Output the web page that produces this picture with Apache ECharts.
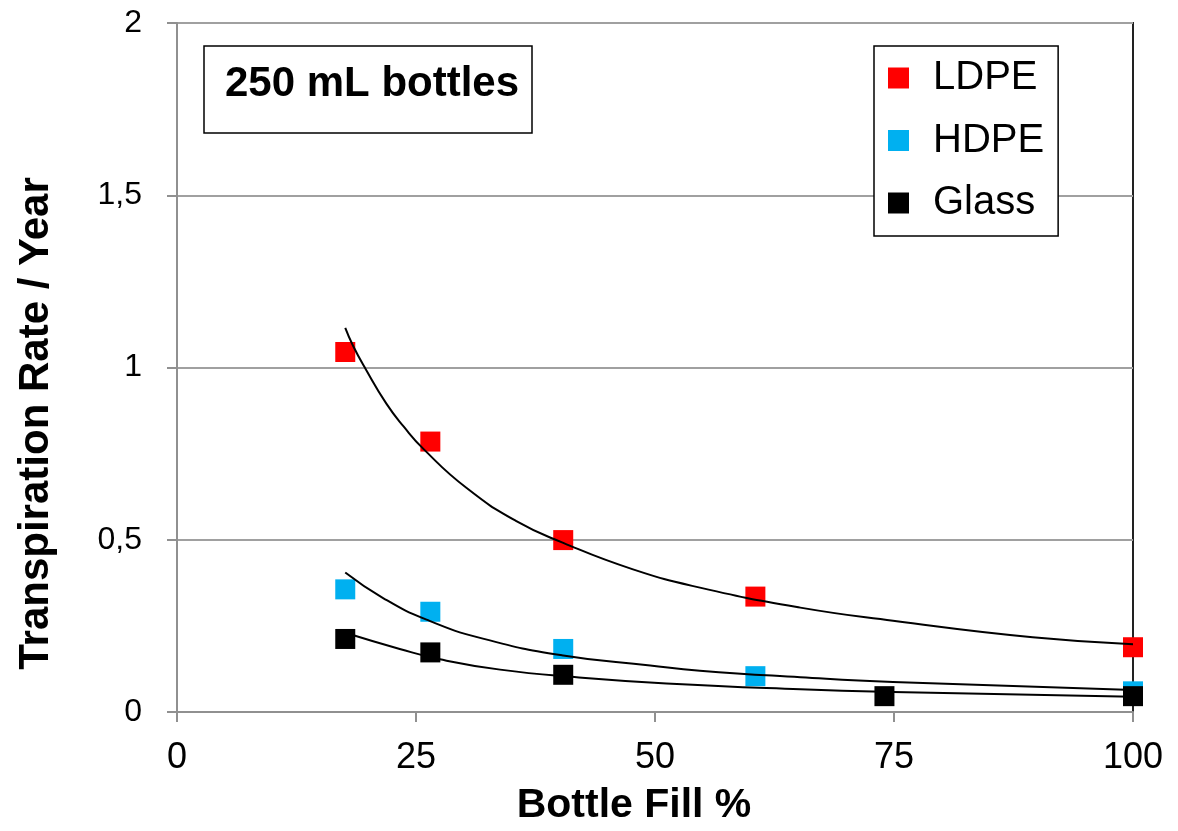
<!DOCTYPE html>
<html>
<head>
<meta charset="utf-8">
<script src="https://cdn.jsdelivr.net/npm/echarts@6/dist/echarts.min.js"></script>
<style>
html,body{margin:0;padding:0;background:#fff;}
#chart{width:1178px;height:831px;}
</style>
</head>
<body>
<div id="chart"></div>
<script>
// ---- Data ----
var seriesNames = ['LDPE', 'HDPE', 'Glass'];
var ldpe  = [[17.6, 1.045], [26.5, 0.785], [40.4, 0.499], [60.5, 0.335], [100, 0.188]];
var hdpe  = [[17.6, 0.356], [26.5, 0.291], [40.4, 0.183], [60.5, 0.104], [100, 0.060]];
var glass = [[17.6, 0.212], [26.5, 0.173], [40.4, 0.108], [74.0, 0.046], [100, 0.046]];

// trend curves, sampled along the drawn curves
var ldpeTrend  = [[17.6, 1.115], [18.4, 1.064], [19.7, 0.997], [21.9, 0.895], [23.7, 0.829], [25.8, 0.763], [30.3, 0.650], [35.5, 0.554], [40.4, 0.491], [47.7, 0.414], [54.7, 0.361], [65.2, 0.303], [74.9, 0.265], [89.5, 0.217], [100, 0.197]];
var hdpeTrend  = [[17.6, 0.405], [21.6, 0.330], [26.1, 0.268], [32.0, 0.213], [40.4, 0.164], [49.5, 0.135], [54.7, 0.120], [65.2, 0.101], [74.9, 0.087], [100, 0.064]];
var glassTrend = [[17.6, 0.230], [23.3, 0.183], [27.5, 0.153], [33.8, 0.123], [41.8, 0.101], [51.2, 0.083], [65.2, 0.066], [74.9, 0.058], [100, 0.044]];

var xTicks = {min: 0, max: 100, interval: 25};
var yTicks = {min: 0, max: 2, interval: 0.5};
var annotation = '250 mL bottles';
var xTitle = 'Bottle Fill %';
var yTitle = 'Transpiration Rate / Year';

var colors = {LDPE: '#FF0000', HDPE: '#00B0F0', Glass: '#000000'};
var FONT = "'Liberation Sans', Arial, sans-serif";

var chart = echarts.init(document.getElementById('chart'), null, {renderer: 'canvas'});

function scatter(name, data) {
  return {
    name: name, type: 'scatter', data: data,
    symbol: 'rect', symbolSize: 20,
    itemStyle: {color: colors[name], opacity: 1},
    z: 2
  };
}
function trend(data) {
  return {
    type: 'line', data: data, showSymbol: false, symbol: 'none',
    smooth: 0.5,
    lineStyle: {color: '#000', width: 2},
    silent: true, z: 5
  };
}

chart.setOption({
  animation: false,
  backgroundColor: '#fff',
  textStyle: {fontFamily: FONT},
  grid: {left: 177, right: 45, top: 23, bottom: 116, show: true, borderColor: '#222', borderWidth: 2, backgroundColor: 'transparent'},
  title: {
    text: annotation,
    left: 204, top: 46,
    padding: [17, 13, 28, 21],
    borderColor: '#000', borderWidth: 1.5, backgroundColor: '#fff',
    textStyle: {fontFamily: FONT, fontWeight: 'bold', fontSize: 42, color: '#000', lineHeight: 42}
  },
  legend: {
    data: seriesNames,
    orient: 'vertical',
    left: 874, top: 46,
    padding: [12, 14, 13, 14],
    itemGap: 22.5,
    itemWidth: 21, itemHeight: 21,
    icon: 'rect',
    borderColor: '#000', borderWidth: 1.5, backgroundColor: '#fff',
    textStyle: {fontFamily: FONT, fontSize: 40, color: '#000', padding: [0, 0, 0, 19], lineHeight: 40}
  },
  xAxis: {
    type: 'value', min: xTicks.min, max: xTicks.max, interval: xTicks.interval,
    name: xTitle, nameLocation: 'middle', nameGap: 73,
    nameTextStyle: {fontFamily: FONT, fontWeight: 'bold', fontSize: 41, color: '#000', padding: [0, 42, 0, 0]},
    axisLine: {show: true, onZero: false, lineStyle: {color: '#909090', width: 2}},
    axisTick: {show: true, length: 10, inside: false, lineStyle: {color: '#909090', width: 2}},
    axisLabel: {fontFamily: FONT, fontSize: 36, color: '#000', margin: 28},
    splitLine: {show: false}
  },
  yAxis: {
    type: 'value', min: yTicks.min, max: yTicks.max, interval: yTicks.interval,
    name: yTitle, nameLocation: 'middle', nameGap: 120, nameRotate: 90,
    nameTextStyle: {fontFamily: FONT, fontWeight: 'bold', fontSize: 42, color: '#000', padding: [0, 112, 0, 0]},
    axisLine: {show: true, onZero: false, lineStyle: {color: '#909090', width: 2}},
    axisTick: {show: true, length: 10, inside: false, lineStyle: {color: '#909090', width: 2}},
    axisLabel: {
      fontFamily: FONT, fontSize: 32, color: '#000', margin: 35,
      formatter: function (v) { return String(v).replace('.', ','); }
    },
    splitLine: {show: true, lineStyle: {color: '#A0A0A0', width: 2}}
  },
  series: [
    scatter('LDPE', ldpe),
    scatter('HDPE', hdpe),
    scatter('Glass', glass),
    trend(ldpeTrend),
    trend(hdpeTrend),
    trend(glassTrend)
  ]
});
</script>
</body>
</html>
